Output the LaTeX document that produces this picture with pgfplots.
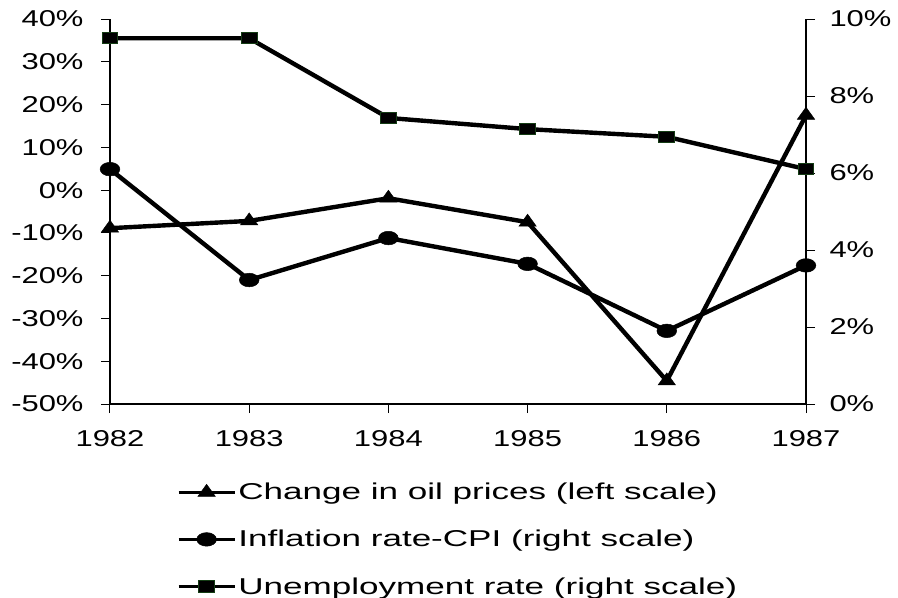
\documentclass[border=0pt]{standalone}
\usepackage{fontspec}
\setmainfont{Liberation Sans}[FakeStretch=1.35]
\newfontfamily\legfont{Liberation Sans}[FakeStretch=1.53]
\usepackage{pgfplots}
\pgfplotsset{compat=1.18}
\definecolor{sqedge}{RGB}{20,60,20}
\begin{document}
\begin{tikzpicture}
\useasboundingbox (-110bp,-194bp) rectangle (788bp,404bp);
\pgfplotsset{
 base/.style={scale only axis, width=696bp, height=385bp, xmin=1982, xmax=1987,
   /pgf/number format/assume math mode=true,
   tick label style={font=\fontsize{23}{27}\selectfont},
   tick style={black, line width=1pt},
   axis line style={black, line width=1.2bp, -},
   major tick length=9bp,
   tick align=outside,
   clip=false,
 },
 legline/.style={legend image code/.code={%
   \draw[line width=3.5bp, mark repeat=2, mark phase=2]
     plot coordinates {(-3bp,0bp) (25bp,0bp) (53bp,0bp)};}},
 oil/.style={black, line width=4.4bp, mark=triangle*, mark size=8bp,
   mark options={solid, fill=black, draw=black, line width=0.5bp, xscale=1.25}, legline},
 infl/.style={black, line width=4.4bp, mark=*, mark size=6.8bp,
   mark options={solid, fill=black, draw=black, line width=0.5bp, xscale=1.45}, legline},
 unem/.style={black, line width=4.4bp, mark=square*, mark size=5.6bp,
   mark options={solid, fill=black, draw=sqedge, line width=1bp, xscale=1.4}, legline},
}
\begin{axis}[base, axis x line*=bottom, axis y line*=left,
  ymin=-50, ymax=40, ytick={-50,-40,...,40},
  yticklabel={\pgfmathprintnumber{\tick}\%},
  yticklabel style={xshift=-14bp},
  xtick={1982,1983,...,1987},
  xticklabel={\pgfmathprintnumber[1000 sep={}]{\tick}},
  xticklabel style={yshift=-14bp},
]
\addplot[oil] coordinates {(1982,-8.9) (1983,-7.2) (1984,-1.9) (1985,-7.5) (1986,-44.6) (1987,17.5)};
\end{axis}
\begin{axis}[base, axis x line=none, axis y line*=right,
  ymin=0, ymax=10, ytick={0,2,...,10},
  yticklabel={\pgfmathprintnumber{\tick}\%},
  yticklabel style={xshift=11bp},
  legend style={at={(0.5,-0.195)}, anchor=north, draw=none, fill=none,
    font=\legfont\fontsize{23}{27}\selectfont, row sep=25bp, legend cell align=left},
]
\addlegendimage{oil}
\addlegendentry{Change in oil prices (left scale)}
\addplot[infl] coordinates {(1982,6.1) (1983,3.22) (1984,4.31) (1985,3.64) (1986,1.9) (1987,3.6)};
\addlegendentry{Inflation rate-CPI (right scale)}
\addplot[unem] coordinates {(1982,9.5) (1983,9.5) (1984,7.43) (1985,7.14) (1986,6.94) (1987,6.1)};
\addlegendentry{Unemployment rate (right scale)}
\end{axis}
\end{tikzpicture}
\end{document}
